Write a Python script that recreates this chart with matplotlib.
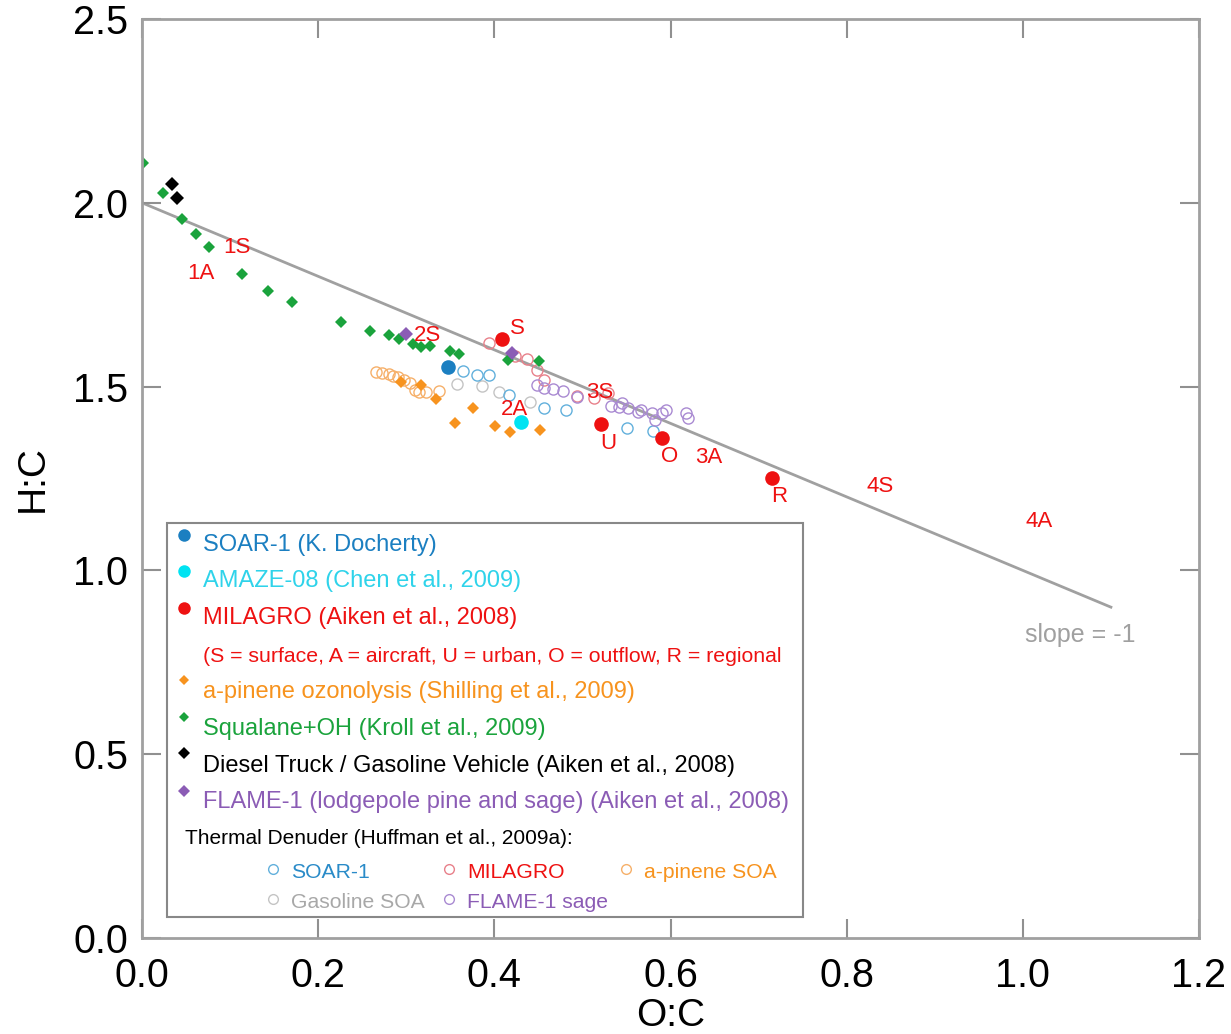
import numpy as np
import matplotlib.pyplot as plt
from matplotlib.patches import Rectangle

plt.rcParams['font.family'] = ['Liberation Sans', 'DejaVu Sans']

# ---- filled circles (field campaigns) ----
soar_oc, soar_hc = [0.347], [1.553]
amaze_oc, amaze_hc = [0.430], [1.405]
milagro_oc = [0.409, 0.521, 0.590, 0.715]
milagro_hc = [1.630, 1.398, 1.361, 1.251]

# ---- diamonds (lab / source) ----
apin_oc = [0.294, 0.317, 0.334, 0.376, 0.355, 0.401, 0.418, 0.452]
apin_hc = [1.512, 1.505, 1.466, 1.443, 1.400, 1.394, 1.376, 1.382]
squal_oc = [0.001, 0.024, 0.045, 0.061, 0.076, 0.114, 0.143, 0.170, 0.226,
            0.259, 0.280, 0.292, 0.308, 0.317, 0.327, 0.350, 0.360, 0.415, 0.451]
squal_hc = [2.108, 2.026, 1.956, 1.915, 1.881, 1.807, 1.760, 1.729, 1.677,
            1.652, 1.641, 1.629, 1.615, 1.609, 1.611, 1.597, 1.588, 1.573, 1.571]
diesel_oc, diesel_hc = [0.034, 0.040], [2.052, 2.014]
flame_oc, flame_hc = [0.300, 0.420], [1.643, 1.591]

# ---- thermal denuder (open circles) ----
td_soar_oc = [0.364, 0.380, 0.394, 0.417, 0.456, 0.481, 0.551, 0.580]
td_soar_hc = [1.543, 1.532, 1.532, 1.478, 1.443, 1.437, 1.388, 1.379]
td_mil_oc = [0.394, 0.423, 0.437, 0.448, 0.456, 0.494, 0.513, 0.529]
td_mil_hc = [1.618, 1.584, 1.574, 1.545, 1.518, 1.475, 1.468, 1.482]
td_apin_oc = [0.266, 0.272, 0.280, 0.285, 0.291, 0.298, 0.304, 0.310,
              0.315, 0.322, 0.337]
td_apin_hc = [1.541, 1.538, 1.534, 1.530, 1.527, 1.518, 1.509, 1.491,
              1.484, 1.484, 1.488]
td_gas_oc = [0.358, 0.386, 0.405, 0.441]
td_gas_hc = [1.507, 1.502, 1.486, 1.459]
td_flame_oc = [0.448, 0.456, 0.467, 0.478, 0.494, 0.533, 0.541, 0.545, 0.552,
               0.563, 0.567, 0.579, 0.582, 0.590, 0.595, 0.618, 0.620]
td_flame_hc = [1.505, 1.496, 1.493, 1.489, 1.473, 1.446, 1.444, 1.455, 1.441,
               1.432, 1.437, 1.428, 1.409, 1.428, 1.435, 1.428, 1.414]

# ---- red text labels placed at their O:C, H:C ----
lab_txt = ['1S', '1A', '2S', '2A', '3S', '3A', '4S', '4A', 'S', 'U', 'O', 'R']
lab_oc = [0.108, 0.067, 0.324, 0.423, 0.520, 0.643, 0.838, 1.019, 0.426, 0.529, 0.599, 0.723]
lab_hc = [1.878, 1.807, 1.640, 1.437, 1.483, 1.306, 1.227, 1.132, 1.657, 1.346, 1.310, 1.200]

slope_x = [0.0, 1.1]
slope_y = [2.0, 0.9]

xticks = [0.0, 0.2, 0.4, 0.6, 0.8, 1.0, 1.2]
yticks = [0.0, 0.5, 1.0, 1.5, 2.0, 2.5]

c_soar = '#1b7fc1'
c_amaze = '#00e3f2'
c_mil = '#ee1111'
c_apin = '#f7931e'
c_squal = '#1aa33c'
c_flame = '#8b5cb5'
c_td_soar = '#62b0dc'
c_td_mil = '#e8808a'
c_td_apin = '#f6b06a'
c_td_gas = '#c4c4c4'
c_td_flame = '#a98ad2'
c_grey = '#a0a0a0'

fig = plt.figure(figsize=(12.31, 10.34), dpi=100)
ax = fig.add_axes([142 / 1231, 1 - 938 / 1034, 1057 / 1231, 919 / 1034])

ax.plot(slope_x, slope_y, color=c_grey, lw=2, zorder=1.5)
ax.text(1.065, 0.824, 'slope = -1', color=c_grey, fontsize=18, ha='center', va='center')

ocirc = dict(ls='none', marker='o', ms=8, mfc='none', mew=1.0)
ax.plot(td_apin_oc, td_apin_hc, mec=c_td_apin, **ocirc)
ax.plot(td_gas_oc, td_gas_hc, mec=c_td_gas, **ocirc)
ax.plot(td_soar_oc, td_soar_hc, mec=c_td_soar, **ocirc)
ax.plot(td_mil_oc, td_mil_hc, mec=c_td_mil, **ocirc)
ax.plot(td_flame_oc, td_flame_hc, mec=c_td_flame, **ocirc)

ax.plot(apin_oc, apin_hc, ls='none', marker='D', ms=6, color=c_apin, mew=0)
ax.plot(squal_oc, squal_hc, ls='none', marker='D', ms=6, color=c_squal, mew=0)
ax.plot(diesel_oc, diesel_hc, ls='none', marker='D', ms=7, color='black', mew=0)
ax.plot(flame_oc, flame_hc, ls='none', marker='D', ms=7, color=c_flame, mew=0)

ax.plot(soar_oc, soar_hc, ls='none', marker='o', ms=10.5, color=c_soar, mew=0)
ax.plot(amaze_oc, amaze_hc, ls='none', marker='o', ms=10.5, color=c_amaze, mew=0)
ax.plot(milagro_oc, milagro_hc, ls='none', marker='o', ms=10.5, color=c_mil, mew=0)

for t, x, y in zip(lab_txt, lab_oc, lab_hc):
    ax.text(x, y, t, color=c_mil, fontsize=16, ha='center', va='center')

ax.set_xlim(0, 1.2)
ax.set_ylim(0, 2.5)
ax.set_xticks(xticks)
ax.set_yticks(yticks)
ax.set_xticklabels(['%.1f' % v for v in xticks])
ax.set_yticklabels(['%.1f' % v for v in yticks])
ax.tick_params(direction='in', length=14, width=1.5, color='#909090', labelsize=28.5,
               top=True, right=True)
ax.tick_params(axis='x', pad=14)
ax.tick_params(axis='y', pad=10)
for s in ax.spines.values():
    s.set_color('#a0a0a0')
    s.set_linewidth(2)
ax.set_xlabel('O:C', fontsize=28, labelpad=2)
ax.set_ylabel('H:C', fontsize=28, labelpad=16)

# ---- hand-built legend box (axes fraction coords) ----
T = ax.transAxes
def fx(px):
    return (px - 142) / 1057
def fy(py):
    return (938 - py) / 919

ax.add_patch(Rectangle((fx(167), fy(917)), fx(803) - fx(167), fy(523) - fy(917),
                       transform=T, fill=True, fc='white', ec='#888888', lw=1.5, zorder=5))

rows = [
    ('o', 9, c_soar, 'SOAR-1 (K. Docherty)', c_soar, 535, 545),
    ('o', 9, c_amaze, 'AMAZE-08 (Chen et al., 2009)', '#2fd3ea', 571, 581),
    ('o', 9, c_mil, 'MILAGRO (Aiken et al., 2008)', c_mil, 608, 618),
    ('D', 5, c_apin, 'a-pinene ozonolysis (Shilling et al., 2009)', c_apin, 680, 692),
    ('D', 5, c_squal, 'Squalane+OH (Kroll et al., 2009)', c_squal, 717, 729),
    ('D', 6, 'black', 'Diesel Truck / Gasoline Vehicle (Aiken et al., 2008)', 'black', 753, 766),
    ('D', 6, c_flame, 'FLAME-1 (lodgepole pine and sage) (Aiken et al., 2008)', c_flame, 791, 802),
]
for m, ms, mc, txt, tc, my, ty in rows:
    ax.plot([fx(184)], [fy(my)], marker=m, ms=ms, color=mc, mew=0, ls='none',
            transform=T, zorder=6, clip_on=False)
    ax.text(fx(203), fy(ty), txt, color=tc, fontsize=17, ha='left', va='center',
            transform=T, zorder=6)
ax.text(fx(203), fy(656), '(S = surface, A = aircraft, U = urban, O = outflow, R = regional',
        color=c_mil, fontsize=15.3, ha='left', va='center', transform=T, zorder=6)
ax.text(fx(185), fy(839), 'Thermal Denuder (Huffman et al., 2009a):', color='black',
        fontsize=15, ha='left', va='center', transform=T, zorder=6)

td_rows = [
    (273, 869, c_td_soar, 'SOAR-1', '#2a8bc8', 873),
    (449, 869, c_td_mil, 'MILAGRO', c_mil, 873),
    (626, 869, c_td_apin, 'a-pinene SOA', c_apin, 873),
    (273, 899, c_td_gas, 'Gasoline SOA', '#a8a8a8', 903),
    (449, 899, c_td_flame, 'FLAME-1 sage', c_flame, 903),
]
for mx, my, mc, txt, tc, ty in td_rows:
    ax.plot([fx(mx)], [fy(my)], marker='o', ms=7, mfc='none', mec=mc, mew=1.0,
            ls='none', transform=T, zorder=6, clip_on=False)
    ax.text(fx(mx + 18), fy(ty), txt, color=tc, fontsize=15.2, ha='left', va='center',
            transform=T, zorder=6)

fig.savefig('out.png', dpi=100)
